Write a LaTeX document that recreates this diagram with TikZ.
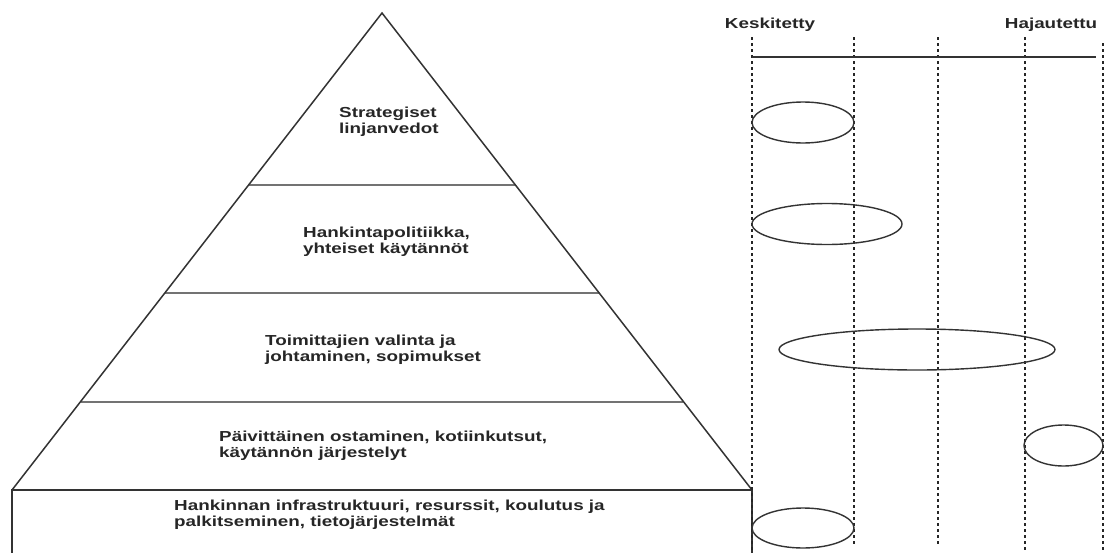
\documentclass[tikz,border=0pt]{standalone}
\usepackage{fontspec}
\setmainfont{Liberation Sans}[FakeStretch=1.3]
\usetikzlibrary{shapes.geometric}
\tikzset{
  edge/.style={draw=black!80, line width=1.5pt},
  divider/.style={draw=black!55, line width=1.7pt},
  vline/.style={draw=black!85, line width=1.7pt, dash pattern=on 3pt off 3pt},
  oval/.style={ellipse, draw=black!80, line width=1.4pt, inner sep=0pt},
  label/.style={font=\fontsize{14.5}{16}\selectfont\bfseries, text=black!85, align=left, inner sep=0pt},
}
\begin{document}
\begin{tikzpicture}[x=1pt,y=-1pt]
\useasboundingbox (0,0) rectangle (1106,552);
\clip (0,0) rectangle (1106,552);
\fill[white] (0,0) rectangle (1106,552);
% coordinates of pyramid
\coordinate (apex) at (382,13);
\coordinate (bl) at (12,490);
\coordinate (br) at (752,490);
% dividers
\draw[divider] (249,185) -- (515,185);
\draw[divider] (165,293) -- (599,293);
\draw[divider] (81,402) -- (683,402);
% pyramid
\draw[edge, line join=miter] (bl) -- (apex) -- (br);
\draw[edge] (12,562) -- (bl) -- (br) -- (752,562);
% dashed columns
\draw[vline] (752,37) -- (752,552);
\draw[vline] (854,37) -- (854,545);
\draw[vline] (938,37) -- (938,545);
\draw[vline] (1025,37) -- (1025,552);
\draw[vline] (1103,43) -- (1103,552);
% scale line
\draw[edge] (752,57) -- (1096,57);
% ellipses
\node[oval, minimum width=102pt, minimum height=41pt] (e1) at (803,122.5) {};
\node[oval, minimum width=150pt, minimum height=41pt] (e2) at (827,224) {};
\node[oval, minimum width=276pt, minimum height=41pt] (e3) at (917,349.5) {};
\node[oval, minimum width=79pt, minimum height=41pt] (e4) at (1063.5,445.5) {};
\node[oval, minimum width=102pt, minimum height=40pt] (e5) at (803,528) {};
% labels
\node[label, anchor=center] (kesk) at (770,25) {Keskitetty};
\node[label, anchor=center] (haja) at (1051,25) {Hajautettu};
\node[label, anchor=west] (t1) at (339,122) {Strategiset\\linjanvedot};
\node[label, anchor=west] (t2) at (303,242) {Hankintapolitiikka,\\yhteiset käytännöt};
\node[label, anchor=west] (t3) at (265,349.5) {Toimittajien valinta ja\\johtaminen, sopimukset};
\node[label, anchor=west] (t4) at (219,446) {Päivittäinen ostaminen, kotiinkutsut,\\käytännön järjestelyt};
\node[label, anchor=west] (t5) at (174,515) {Hankinnan infrastruktuuri, resurssit, koulutus ja\\palkitseminen, tietojärjestelmät};
\end{tikzpicture}
\end{document}
